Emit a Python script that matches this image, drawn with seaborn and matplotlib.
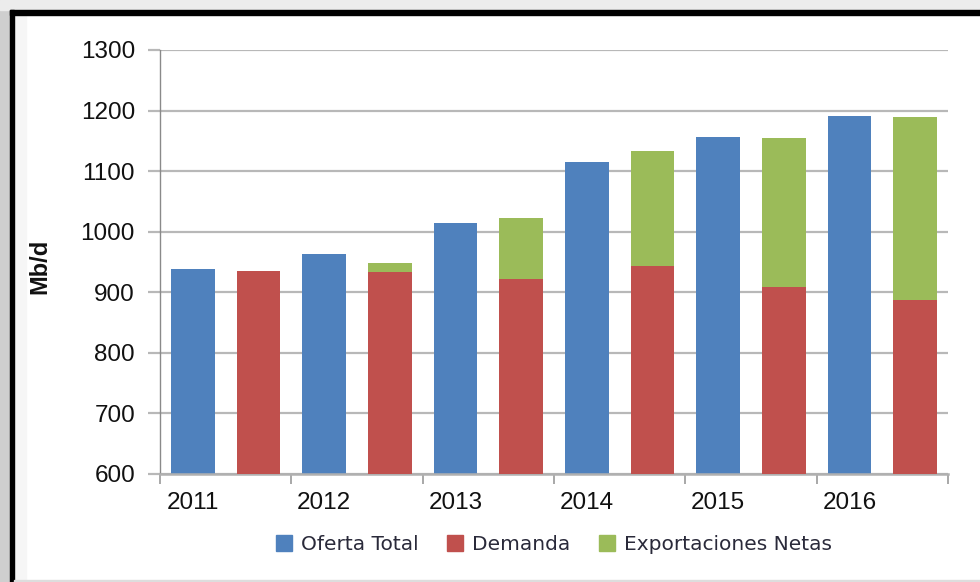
import matplotlib
matplotlib.use("Agg")
import matplotlib.pyplot as plt
from matplotlib.patches import Rectangle
from matplotlib.lines import Line2D
import seaborn as sns
import pandas as pd

# ---- data ----
years = ["2011", "2012", "2013", "2014", "2015", "2016"]
oferta_total = [938, 963, 1015, 1115, 1156, 1191]
demanda = [935, 934, 922, 943, 909, 888]
exportaciones_netas = [0, 14, 101, 190, 245, 302]
yticks = [600, 700, 800, 900, 1000, 1100, 1200, 1300]
series_names = ["Oferta Total", "Demanda", "Exportaciones Netas"]
colors = {"Oferta Total": "#4F81BD", "Demanda": "#C0504D", "Exportaciones Netas": "#9BBB59"}

# build slot table: each year has a supply slot and a demand(+exports) slot
slots = []
rows_top = []
rows_dem = []
for i, y in enumerate(years):
    s_sup = f"{y}_o"
    s_dem = f"{y}_d"
    slots += [s_sup, s_dem]
    rows_top.append({"slot": s_sup, "value": oferta_total[i], "serie": "Oferta Total"})
    rows_top.append({"slot": s_dem, "value": demanda[i] + exportaciones_netas[i], "serie": "Exportaciones Netas"})
    rows_dem.append({"slot": s_dem, "value": demanda[i], "serie": "Demanda"})
df_top = pd.DataFrame(rows_top)
df_dem = pd.DataFrame(rows_dem)

sns.set_style("white")
plt.rcParams["font.family"] = ["Liberation Sans", "DejaVu Sans"]

fig = plt.figure(figsize=(9.8, 5.82), dpi=100)
ax = fig.add_axes([160 / 980, 1 - 474 / 582, 788 / 980, 424 / 582])

# frame decorations (screenshot border)
fig.patches.append(Rectangle((0, 0), 10 / 980, 1, transform=fig.transFigure, color="#cfcfcf", zorder=0))
fig.patches.append(Rectangle((0, 1 - 10 / 582), 1, 10 / 582, transform=fig.transFigure, color="#ececec", zorder=0))
fig.patches.append(Rectangle((10 / 980, 1 - 15 / 582), 1, 5 / 582, transform=fig.transFigure, color="#000000", zorder=1))
fig.patches.append(Rectangle((10 / 980, 0), 4 / 980, 1 - 10 / 582, transform=fig.transFigure, color="#000000", zorder=1))
fig.patches.append(Rectangle((14 / 980, 0), 1, 2 / 582, transform=fig.transFigure, color="#dddddd", zorder=1))
fig.patches.append(Rectangle((14 / 980, 0), 12 / 980, 1 - 15 / 582, transform=fig.transFigure, color="#f6f6f6", zorder=0))

ax.set_axisbelow(True)
ax.yaxis.grid(True, color="#b8b8b8", linewidth=1.6)

sns.barplot(data=df_top, x="slot", y="value", hue="serie", order=slots, dodge=False,
            palette=colors, saturation=1, width=0.67, linewidth=0, ax=ax, legend=False, zorder=2)
sns.barplot(data=df_dem, x="slot", y="value", hue="serie", order=slots, dodge=False,
            palette=colors, saturation=1, width=0.67, linewidth=0, ax=ax, legend=False, zorder=3)

ax.set_ylim(600, 1300)
ax.set_xlim(-0.5, len(slots) - 0.5)
ax.set_yticks(yticks)
ax.set_yticklabels([str(v) for v in yticks])
ax.tick_params(axis="y", which="major", length=9, width=1.6, color="#b8b8b8", pad=9,
               labelsize=17.5, labelcolor="#111111", left=True)

# x: major ticks at group boundaries, labels at supply bars
ax.set_xticks([i * 2 - 0.5 for i in range(len(years) + 1)])
ax.set_xticklabels([])
ax.set_xticks([i * 2 for i in range(len(years))], minor=True)
ax.set_xticklabels(years, minor=True)
ax.tick_params(axis="x", which="major", length=7, width=1.2, color="#999999", bottom=True)
ax.tick_params(axis="x", which="minor", length=0, pad=13, labelsize=17.5, labelcolor="#111111")
ax.set_xlabel("")
ax.set_ylabel("")

for side in ["top", "right"]:
    ax.spines[side].set_visible(False)
ax.spines["left"].set_color("#8a8a8a")
ax.spines["left"].set_linewidth(1.0)
ax.spines["bottom"].set_color("#b0b0b0")
ax.spines["bottom"].set_linewidth(1.8)

fig.text(40 / 980, 1 - 266 / 582, "Mb/d", rotation=90, ha="center", va="center",
         fontsize=17, fontweight="bold", color="#111111")

handles = [Line2D([0], [0], marker="s", linestyle="", markersize=11,
                  markerfacecolor=colors[n], markeredgecolor=colors[n]) for n in series_names]
fig.legend(handles, series_names, loc="center", bbox_to_anchor=(553 / 980, 1 - 545 / 582),
           ncol=3, frameon=False, handletextpad=0.35, columnspacing=1.3, handlelength=1.0,
           prop={"family": "DejaVu Sans", "size": 14.5}, labelcolor="#2a2a3a")

fig.savefig("out.png", dpi=100, facecolor="white")
